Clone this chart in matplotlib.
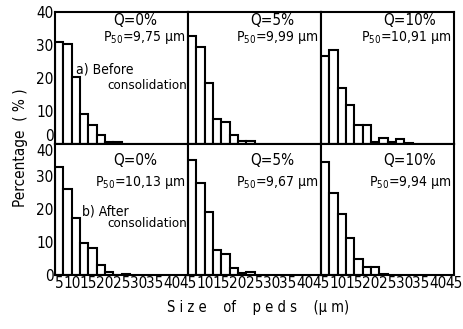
import matplotlib
matplotlib.use('Agg')
import matplotlib.pyplot as plt
from matplotlib import font_manager
import numpy as np

# pick a narrow face if there is one, the scan uses a condensed sans
fonts = font_manager.fontManager.ttflist
names = {f.name for f in fonts}
stretch = 'normal'
if 'Liberation Sans Narrow' in names:
    family = 'Liberation Sans Narrow'
elif any(f.name == 'DejaVu Sans' and f.stretch in ('condensed', 'semi-condensed') for f in fonts):
    family = 'DejaVu Sans'
    stretch = 'condensed'
elif 'Roboto Condensed' in names:
    family = 'Roboto Condensed'
else:
    family = 'Roboto'

plt.rcParams['font.family'] = [family, 'DejaVu Sans']
plt.rcParams['font.stretch'] = stretch
plt.rcParams['mathtext.fontset'] = 'custom'
plt.rcParams['mathtext.rm'] = family
plt.rcParams['mathtext.it'] = family

# size classes (um), width 2.5
bin_width = 2.5
bin_start = 5

# percentage per class
before_q0 = [31.0, 30.3, 20.3, 9.0, 5.7, 2.7, 0.6, 0.6]
before_q5 = [32.6, 29.4, 18.5, 7.5, 6.5, 2.6, 0.7, 0.7]
before_q10 = [26.5, 28.4, 17.0, 11.6, 5.7, 5.7, 0.5, 1.7, 0.5, 1.4, 0.3]
after_q0 = [32.8, 26.3, 17.5, 9.8, 8.1, 3.2, 1.0, 0.0, 0.3]
after_q5 = [35.0, 28.0, 19.2, 7.6, 6.3, 2.0, 0.5, 0.8]
after_q10 = [34.3, 25.0, 18.7, 11.4, 4.8, 2.3, 2.3, 0.3]

q_labels = ['Q=0%', 'Q=5%', 'Q=10%']
p50_before = ['9,75', '9,99', '10,91']
p50_after = ['10,13', '9,67', '9,94']

x_ticks = [5, 10, 15, 20, 25, 30, 35, 40, 45]
y_ticks = [0, 10, 20, 30, 40]

fig = plt.figure(figsize=(4.63, 3.29), dpi=100)
gs = fig.add_gridspec(2, 3, left=0.119, right=0.981, top=0.9635, bottom=0.164,
                      wspace=0, hspace=0)

rows = [[before_q0, before_q5, before_q10], [after_q0, after_q5, after_q10]]
p50s = [p50_before, p50_after]

for r in range(2):
    for c in range(3):
        ax = fig.add_subplot(gs[r, c])
        vals = rows[r][c]
        lefts = bin_start + bin_width * np.arange(len(vals))
        ax.bar(lefts, vals, width=bin_width, align='edge', color='white',
               edgecolor='black', linewidth=1.5)
        ax.set_xlim(5, 45)
        ax.set_ylim(0, 40)
        for s in ax.spines.values():
            s.set_linewidth(1.5)
        ax.tick_params(direction='in', length=0, labelsize=11, pad=1)
        ax.set_xticks(x_ticks)
        ax.set_yticks(y_ticks)
        if c != 0:
            ax.set_yticklabels([])
        else:
            # top panel's 0 sits just above the join, bottom panel's 40 just below
            if r == 0:
                ax.get_yticklabels()[0].set_va('bottom')
            else:
                ax.get_yticklabels()[-1].set_va('top')
        if r == 0:
            ax.set_xticklabels([])
        elif c != 0:
            # the 45 of the panel to the left already stands at the join
            ax.set_xticklabels([''] + [str(t) for t in x_ticks[1:]])
        else:
            ax.get_xticklabels()[0].set_ha('left')
        # Q and P50 texts
        if r == 0:
            qy, py = 0.935, 0.805
        else:
            qy, py = 0.87, 0.70
        xx = 0.42 if c == 0 else 0.45
        ax.text(xx + 0.02, qy, q_labels[c], transform=ax.transAxes,
                fontsize=11, va='center', ha='left')
        ax.text(0.98, py, r'P$_{50}$=' + p50s[r][c] + ' μm', transform=ax.transAxes,
                fontsize=10, va='center', ha='right')
        if c == 0:
            if r == 0:
                ax.text(0.16, 0.56, 'a) Before', transform=ax.transAxes,
                        fontsize=10, va='center', ha='left')
                ax.text(0.995, 0.44, 'consolidation', transform=ax.transAxes,
                        fontsize=9.5, va='center', ha='right')
            else:
                ax.text(0.20, 0.48, 'b) After', transform=ax.transAxes,
                        fontsize=10, va='center', ha='left')
                ax.text(0.995, 0.39, 'consolidation', transform=ax.transAxes,
                        fontsize=9.5, va='center', ha='right')

fig.text(0.045, 0.55, 'Percentage  ( % )', rotation=90, fontsize=11,
         va='center', ha='center')
fig.text(0.557, 0.066, 'S i z e    of    p e d s    (μ m)', fontsize=10.5,
         va='center', ha='center')

plt.savefig('out.png', dpi=100)
